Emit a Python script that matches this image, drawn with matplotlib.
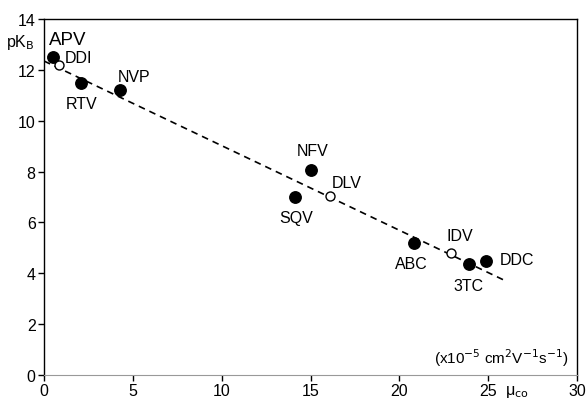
import matplotlib.pyplot as plt

plt.rcParams['font.family'] = ['Liberation Sans', 'DejaVu Sans']

# drugs with filled markers
filled_names = ['APV', 'RTV', 'NVP', 'NFV', 'SQV', 'ABC', '3TC', 'DDC']
filled_mu = [0.5, 2.1, 4.3, 15.0, 14.1, 20.8, 23.9, 24.9]
filled_pkb = [12.5, 11.5, 11.2, 8.05, 7.0, 5.2, 4.35, 4.5]

# drugs with open markers
open_names = ['DDI', 'DLV', 'IDV']
open_mu = [0.85, 16.1, 22.9]
open_pkb = [12.2, 7.05, 4.8]

# fitted line
fit_x = [0.0, 26.0]
fit_intercept = 12.35
fit_slope = -0.333

# label offsets in points
offsets = {
    'APV': (11, 13), 'DDI': (14, 5), 'RTV': (0, -15), 'NVP': (10, 10),
    'NFV': (1.5, 14.5), 'SQV': (1, -15), 'DLV': (12, 9.5), 'ABC': (-1.5, -15),
    'IDV': (6.5, 12.5), '3TC': (0, -15), 'DDC': (22, 1),
}

fig = plt.figure(figsize=(5.87, 4.02), dpi=100)
ax = fig.add_axes([0.075, 0.065, 0.908, 0.885])

ax.plot(fit_x, [fit_intercept + fit_slope * x for x in fit_x],
        color='black', ls=(0, (4, 3)), lw=1.2, zorder=1)
ax.scatter(filled_mu, filled_pkb, s=68, color='black', zorder=3)
ax.scatter(open_mu, open_pkb, s=42, facecolor='white', edgecolor='black',
           lw=1.0, zorder=3)

for name, x, y in zip(filled_names + open_names, filled_mu + open_mu,
                      filled_pkb + open_pkb):
    size = 13.5 if name == 'APV' else 11.5
    ax.annotate(name, (x, y), xytext=offsets[name], textcoords='offset points',
                ha='center', va='center', fontsize=size)

ax.set_xlim(0, 30)
ax.set_ylim(0, 14)
ax.set_xticks(range(0, 31, 5))
ax.set_yticks(range(0, 15, 2))
ax.tick_params(direction='out', length=4, width=1, labelsize=11.5, pad=2)
for side in ['top', 'right', 'left']:
    ax.spines[side].set_linewidth(1.0)
ax.spines['bottom'].set_color('#999999')

ax.text(0.985, 0.02, '(x10$^{-5}$ cm$^{2}$V$^{-1}$s$^{-1}$)', transform=ax.transAxes,
        ha='right', va='bottom', fontsize=11)
fig.text(0.01, 0.895, 'pK$_{\\mathrm{B}}$', fontsize=11.5, ha='left', va='center')
fig.text(0.88, 0.025, 'μ$_{\\mathrm{co}}$', fontsize=11.5, ha='center', va='center')

fig.savefig('out.png', dpi=100)
